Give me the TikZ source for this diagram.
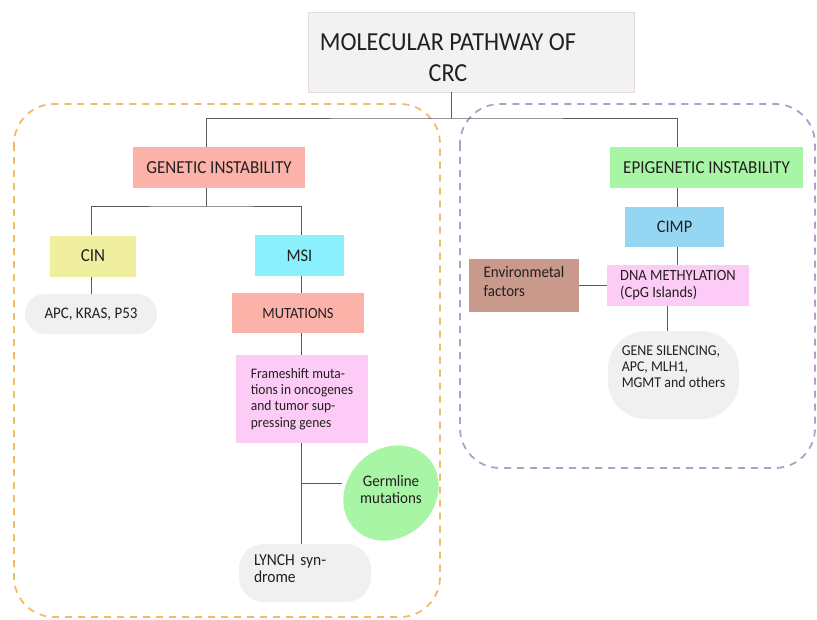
\documentclass[tikz,border=0pt]{standalone}
\usepackage{fontspec}
\setmainfont{Carlito}[FakeStretch=0.93]
\usepackage{xcolor}
\definecolor{textdark}{HTML}{231F20}
\definecolor{linegray}{HTML}{5A5A5A}
\definecolor{titlefill}{HTML}{F2F2F2}
\definecolor{titleline}{HTML}{E6DADB}
\definecolor{salmon}{HTML}{FAB2A9}
\definecolor{mint}{HTML}{A9F5A6}
\definecolor{lemon}{HTML}{EFEF9F}
\definecolor{aqua}{HTML}{8AF1FC}
\definecolor{sky}{HTML}{95D7F2}
\definecolor{pinkish}{HTML}{FDCCF6}
\definecolor{clay}{HTML}{C99A8B}
\definecolor{pillgray}{HTML}{F0F0F0}
\definecolor{orangedash}{HTML}{F1BC67}
\definecolor{purpledash}{HTML}{B79BC9}
\usepackage{tikz}
\usetikzlibrary{shapes.geometric,positioning,calc}
\newcommand{\fsz}[2]{\fontsize{#1}{#2}\selectfont}

\begin{document}
\begin{tikzpicture}[
    x=1pt, y=-1pt,
    box/.style={rectangle, fill=#1, text=textdark, inner sep=0pt, align=center},
    pill/.style={rectangle, rounded corners=#1, fill=pillgray, text=textdark, inner sep=0pt, align=left},
    link/.style={draw=linegray, line width=0.9pt},
    zone/.style={draw=#1, line width=1.8pt, rounded corners=40, dash pattern=on 7pt off 6pt},
  ]
    \useasboundingbox (0,0) rectangle (817,619);
    % Zones
    \draw[zone=orangedash] (14,104) rectangle (440,617);
    \draw[zone=purpledash] (460,104) rectangle (815,468);
    % Boxes
    \node[box=titlefill, draw=titleline, line width=0.8pt, minimum width=326, minimum height=80] (title) at (471,52) {};
    \node[text=textdark, font=\fsz{26}{31}, align=center, inner sep=0pt] (titletext) at (448,57.3) {MOLECULAR PATHWAY OF\\CRC};
    \node[box=salmon, minimum width=172, minimum height=41, font=\fsz{18.3}{21}] (gen) at (219,167.5) {GENETIC INSTABILITY};
    \node[box=mint, minimum width=193, minimum height=41, font=\fsz{18.3}{21}] (epi) at (706.5,167.5) {EPIGENETIC INSTABILITY};
    \node[box=lemon, minimum width=86, minimum height=41, font=\fsz{18.3}{21}] (cin) at (93,256) {CIN};
    \node[box=aqua, minimum width=89, minimum height=41, font=\fsz{17.7}{21}] (msi) at (299.5,255.5) {MSI};
    \node[pill=20, minimum width=132, minimum height=40, font=\fsz{16.1}{19}] (apc) at (91,314) {APC, KRAS, P53};
    \node[box=salmon, minimum width=132, minimum height=40, font=\fsz{15.6}{19}] (mut) at (298,313) {MUTATIONS};
    \node[box=pinkish, minimum width=132, minimum height=88, align=left, font=\fsz{14.5}{16.3}] (frame) at (302,399) {Frameshift muta-\\tions in oncogenes\\and tumor sup-\\pressing genes};
    \fill[mint, rotate around={45:(391,493)}] (391,493) ellipse [x radius=51pt, y radius=44pt];
    \node[ellipse, minimum width=97, minimum height=93, inner sep=0pt, align=center, text=textdark, font=\fsz{16.1}{17}] (germ) at (391,489) {Germline\\mutations};
    \node[pill=25, minimum width=132, minimum height=58, text width=102, font=\fsz{16.7}{17}] (lynch) at (305,573) {LYNCH syn-\\drome\rule[-9pt]{0pt}{0pt}};
    \node[box=sky, minimum width=99, minimum height=40, font=\fsz{17.7}{21}] (cimp) at (674.5,227) {CIMP};
    \node[box=pinkish, minimum width=142, minimum height=41, align=left, font=\fsz{15.6}{17}] (dna) at (678,285.5) {DNA METHYLATION\\(CpG Islands)};
    \node[box=clay, minimum width=110, minimum height=53, align=left, font=\fsz{16.1}{19}] (env) at (524,285.5) {Environmetal\\factors\rule[-8pt]{0pt}{0pt}};
    \node[pill=38, minimum width=131, minimum height=88, font=\fsz{15}{16}] (gene) at (673.5,375) {GENE SILENCING,\\APC, MLH1,\\MGMT and others\rule[-16pt]{0pt}{0pt}};
    % Links
    \coordinate (split) at (451,118);
    \coordinate (gsplit) at (206,206);
    \coordinate (fsplit) at (301,483);
    \draw[link] ([xshift=-20]title.south) -- (split);
    \draw[link] ([xshift=-13]gen.north) |- (split) -| ([xshift=-29.5]epi.north);
    \draw[link] ([xshift=-13]gen.south) -- (gsplit);
    \draw[link] ([xshift=-2]cin.north) |- (gsplit) -| ([xshift=1.5]msi.north);
    \draw[link] ([xshift=-2]cin.south) -- (apc.north);
    \draw[link] ([xshift=1.5]msi.south) -- ([xshift=3]mut.north);
    \draw[link] ([xshift=3]mut.south) -- ([xshift=-1]frame.north);
    \draw[link] ([xshift=-1]frame.south) -- ([xshift=-4]lynch.north);
    \draw[link] (fsplit) -- (fsplit -| germ.west);
    \draw[link] ([xshift=-29.5]epi.south) -- ([xshift=2.5]cimp.north);
    \draw[link] ([xshift=2.5]cimp.south) -- ([xshift=-1]dna.north);
    \draw[link] (env.east) -- (dna.west);
    \draw[link] ([xshift=-11]dna.south) -- ([xshift=-6.5]gene.north);
  \end{tikzpicture}
\end{document}
